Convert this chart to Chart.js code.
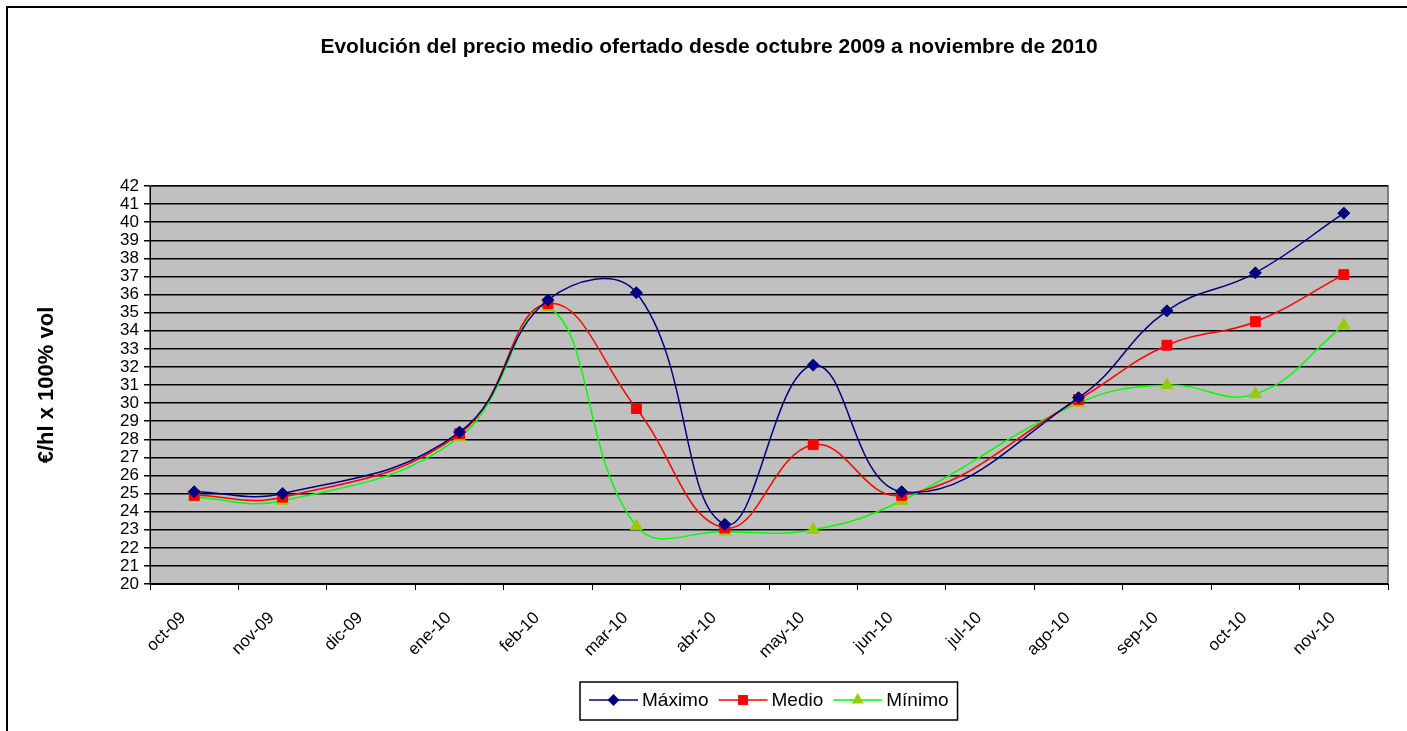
<!DOCTYPE html>
<html lang="es">
<head>
<meta charset="UTF-8">
<title>Evolución del precio medio ofertado</title>
<style>
  html, body { margin: 0; padding: 0; background: #fff; }
  #wrap { width: 1407px; height: 731px; }
</style>
</head>
<body>
<div id="wrap"><canvas id="myChart" width="1407" height="731"></canvas></div>
<script src="https://cdn.jsdelivr.net/npm/chart.js"></script>
<script>
// data (dic-09 and jul-10 have no value)
const months = ['oct-09', 'nov-09', 'dic-09', 'ene-10', 'feb-10', 'mar-10', 'abr-10',
                'may-10', 'jun-10', 'jul-10', 'ago-10', 'sep-10', 'oct-10', 'nov-10'];
const maximo = [25.1, 25.0, null, 28.4, 35.7, 36.1, 23.3, 32.1, 25.1, null, 30.3, 35.1, 37.2, 40.5];
const medio  = [24.9, 24.8, null, 28.3, 35.5, 29.7, 23.1, 27.7, 24.9, null, 30.2, 33.2, 34.5, 37.1];
const minimo = [24.8, 24.6, null, 28.1, 35.3, 23.2, 22.9, 23.0, 24.6, null, 30.0, 31.0, 30.5, 34.3];
const yTicks = { min: 20, max: 42, step: 1 };

const titleText = 'Evolución del precio medio ofertado desde octubre 2009 a noviembre de 2010';
const yTitle = '€/hl x 100% vol';
const FONT = '"Liberation Sans", Arial, sans-serif';

const series = [
    { label: 'Máximo', data: maximo, line: '#000080', fill: '#000080', style: 'rectRot', r: 6 },
    { label: 'Medio',  data: medio,  line: '#FF0000', fill: '#FF0000', style: 'rect', r: 7 },
    { label: 'Mínimo', data: minimo, line: '#00FF00', fill: '#99CC00', style: 'triangle', r: 7 }
];

function drawMarker(ctx, style, x, y, r, color) {
    ctx.fillStyle = color;
    ctx.beginPath();
    if (style === 'rectRot') {
        ctx.moveTo(x, y - r); ctx.lineTo(x + r, y); ctx.lineTo(x, y + r); ctx.lineTo(x - r, y);
    } else if (style === 'rect') {
        const s = r * Math.SQRT1_2;
        ctx.rect(x - s, y - s, 2 * s, 2 * s);
    } else {
        const h = r * 1.5;
        ctx.moveTo(x, y - h * 2 / 3); ctx.lineTo(x + r * 0.87, y + h / 3); ctx.lineTo(x - r * 0.87, y + h / 3);
    }
    ctx.closePath();
    ctx.fill();
}

// plot background, outer frame, title and legend box
const excelLook = {
    id: 'excelLook',
    beforeDraw(chart) {
        const { ctx, chartArea: a } = chart;
        ctx.save();
        ctx.fillStyle = '#fff';
        ctx.fillRect(0, 0, chart.width, chart.height);
        ctx.fillStyle = '#C0C0C0';
        ctx.fillRect(a.left, a.top, a.right - a.left, a.bottom - a.top);
        ctx.strokeStyle = '#808080';
        ctx.lineWidth = 2;
        ctx.strokeRect(a.left, a.top, a.right - a.left, a.bottom - a.top);
        ctx.strokeStyle = '#000';
        ctx.lineWidth = 2;
        ctx.beginPath();
        ctx.moveTo(7, chart.height);
        ctx.lineTo(7, 7);
        ctx.lineTo(chart.width, 7);
        ctx.stroke();
        ctx.restore();
    },
    afterDraw(chart) {
        const ctx = chart.ctx;
        ctx.save();
        // title
        ctx.fillStyle = '#000';
        ctx.font = 'bold 21px ' + FONT;
        ctx.textAlign = 'center';
        ctx.textBaseline = 'middle';
        ctx.fillText(titleText, 709, 47);

        // legend
        ctx.font = '19px ' + FONT;
        ctx.textAlign = 'left';
        const lineW = 49, gapText = 4, gapItem = 10, padX = 9;
        let total = padX * 2;
        series.forEach((s, i) => {
            total += lineW + gapText + ctx.measureText(s.label).width + (i < series.length - 1 ? gapItem : 0);
        });
        const cx = 769, cy = 700;
        const left = Math.round(cx - total / 2);
        ctx.strokeStyle = '#000';
        ctx.lineWidth = 1.5;
        ctx.strokeRect(left, 682, total, 38);
        let x = left + padX;
        series.forEach(s => {
            ctx.strokeStyle = s.line;
            ctx.lineWidth = 1.5;
            ctx.beginPath();
            ctx.moveTo(x, cy); ctx.lineTo(x + lineW, cy);
            ctx.stroke();
            drawMarker(ctx, s.style, x + lineW / 2, cy, s.r, s.fill);
            x += lineW + gapText;
            ctx.fillStyle = '#000';
            ctx.fillText(s.label, x, cy + 1);
            x += ctx.measureText(s.label).width + gapItem;
        });
        ctx.restore();
    }
};

const data = {
    labels: months,
    datasets: series.map(s => ({
        label: s.label,
        data: s.data,
        borderColor: s.line,
        borderWidth: 1.5,
        backgroundColor: s.fill,
        pointBackgroundColor: s.fill,
        pointBorderColor: s.fill,
        pointBorderWidth: 1,
        pointStyle: s.style,
        pointRadius: s.r,
        tension: 0.42,
        spanGaps: true,
        fill: false
    }))
};

const config = {
    type: 'line',
    data,
    options: {
        responsive: false,
        animation: false,
        layout: { padding: { left: 0, right: 19, top: 186, bottom: 0 } },
        plugins: {
            legend: { display: false },
            tooltip: { enabled: false },
            title: { display: false }
        },
        scales: {
            x: {
                offset: true,
                grid: { offset: true, drawOnChartArea: false, color: '#000', tickLength: 6 },
                border: { color: '#000', width: 1 },
                ticks: {
                    autoSkip: false, minRotation: 45, maxRotation: 45,
                    color: '#000', font: { family: FONT, size: 17 }, padding: 18, labelOffset: -11
                },
                afterFit(scale) { scale.height = 731 - 584; }
            },
            y: {
                min: yTicks.min,
                max: yTicks.max,
                ticks: { autoSkip: false, stepSize: yTicks.step, color: '#000', font: { family: FONT, size: 17 }, padding: 5 },
                grid: { color: '#000', lineWidth: 1.5, tickLength: 6 },
                border: { color: '#000', width: 1 },
                title: {
                    display: true, text: yTitle, color: '#000',
                    font: { family: FONT, size: 22, weight: 'bold' },
                    padding: { top: 34, bottom: 0 }
                },
                afterFit(scale) { scale.width = 150; }
            }
        }
    },
    plugins: [excelLook]
};

const myChart = new Chart(document.getElementById('myChart'), config);
</script>
</body>
</html>
